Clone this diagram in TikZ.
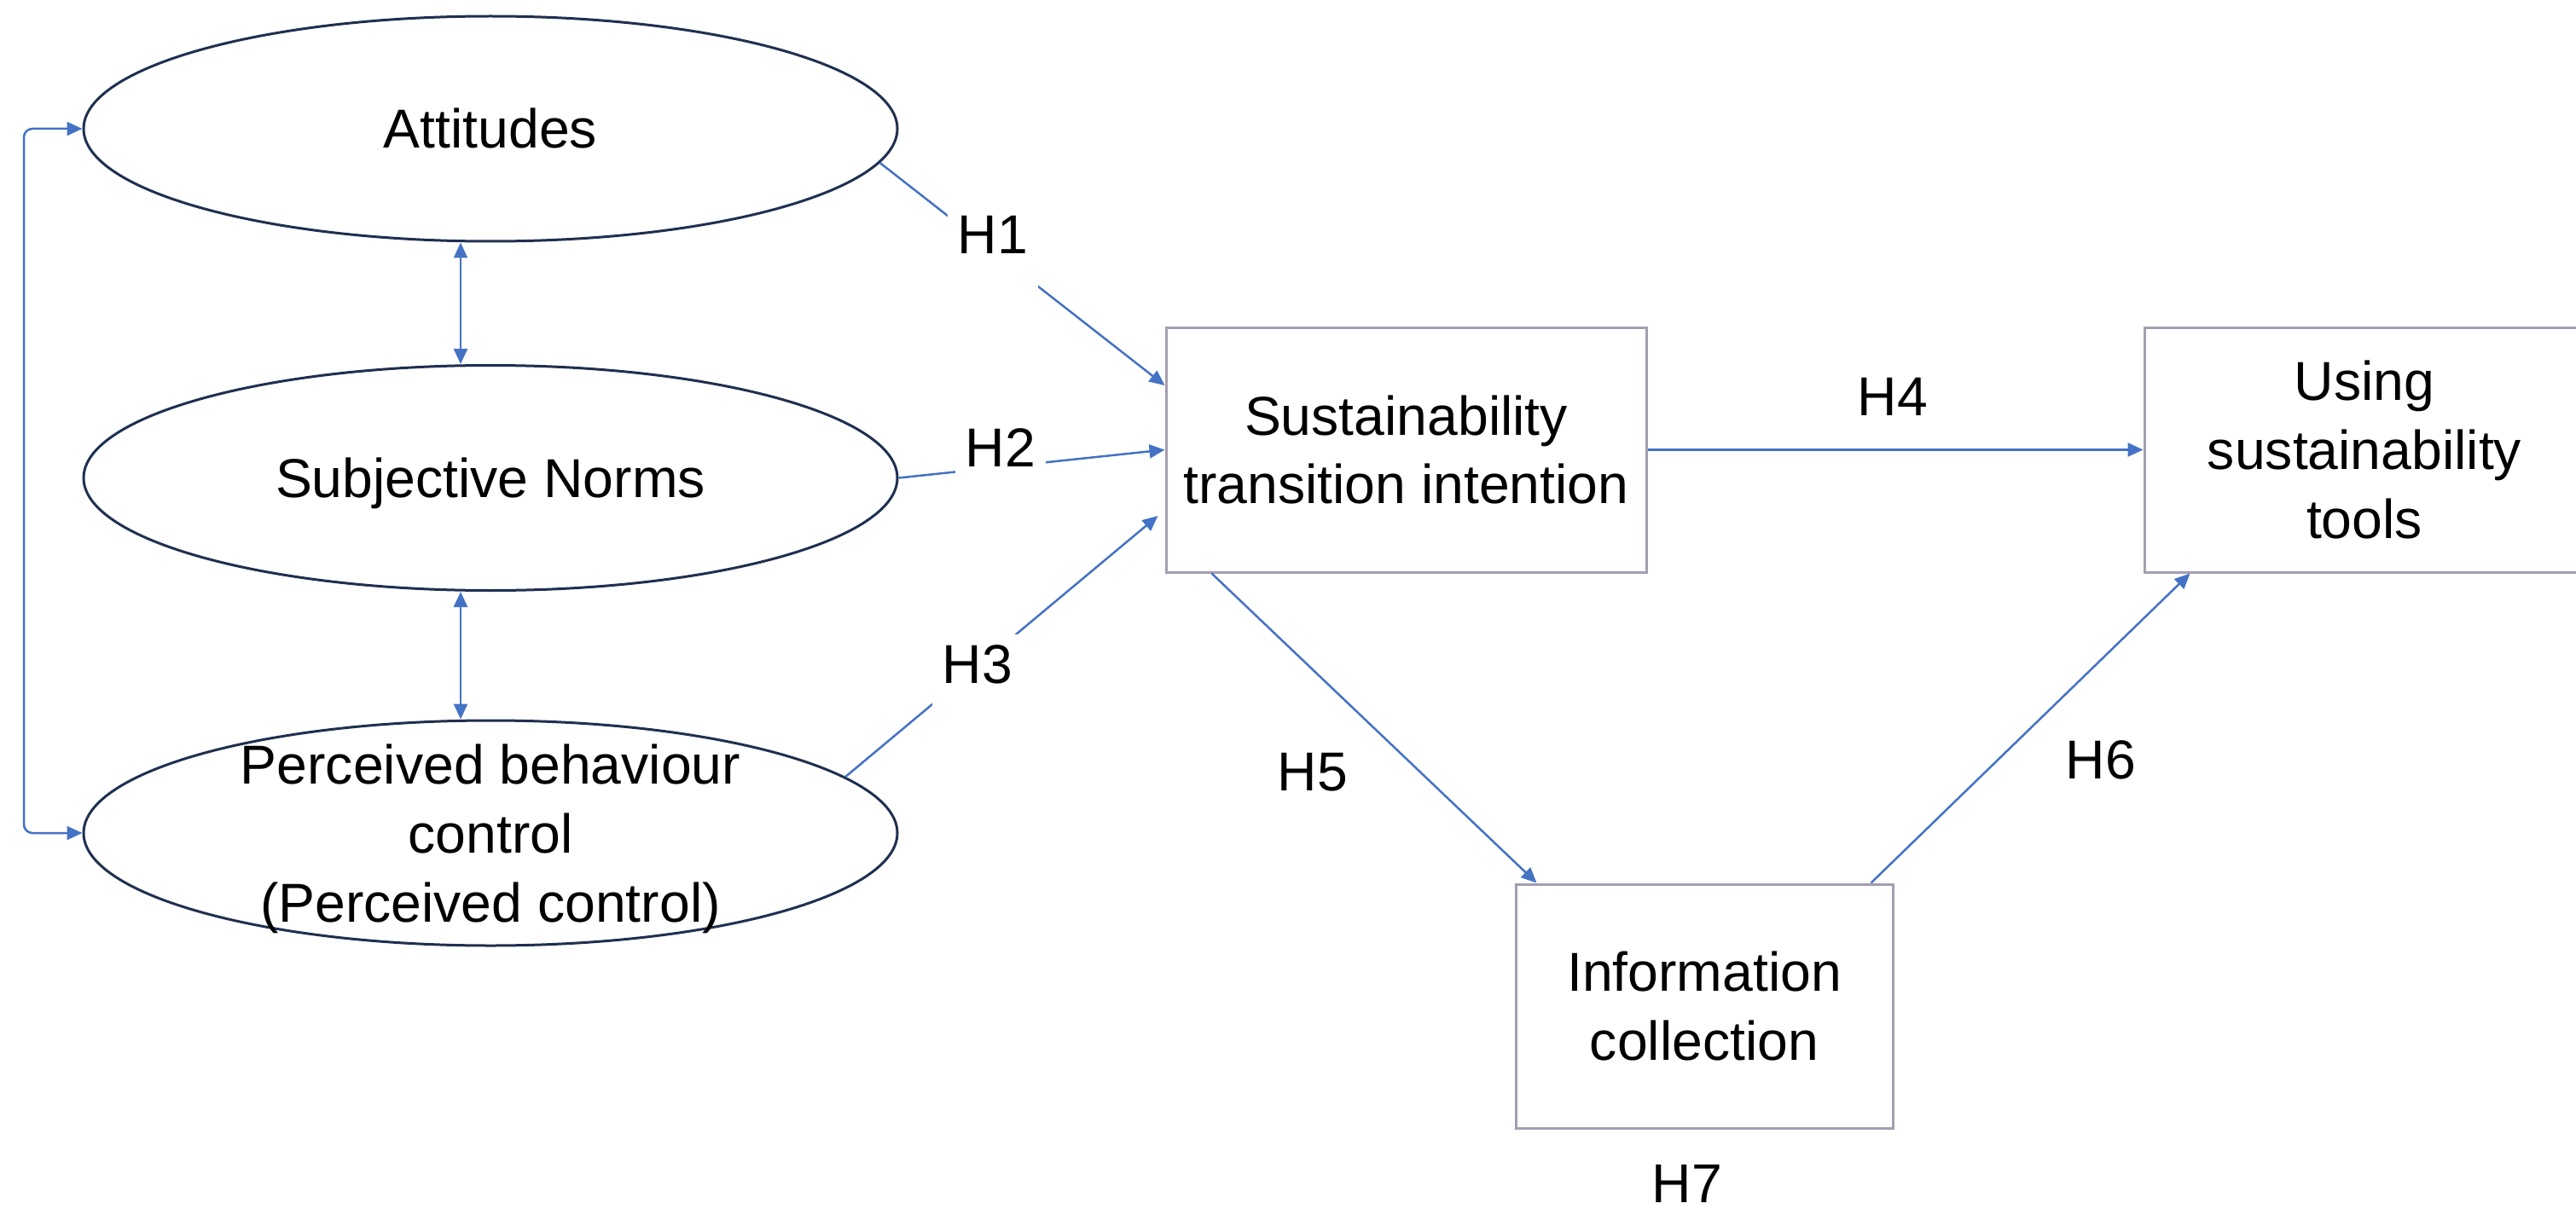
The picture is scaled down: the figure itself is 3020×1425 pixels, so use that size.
\documentclass[tikz,border=0pt]{standalone}
\usepackage{fontspec}
\setmainfont{Liberation Sans}
\usetikzlibrary{arrows.meta,shapes.geometric}
\definecolor{navy}{HTML}{1F3050}
\definecolor{arrowblue}{HTML}{4472C4}
\definecolor{boxgray}{HTML}{A59DB0}
\begin{document}
\begin{tikzpicture}[x=0.1mm,y=-0.1mm,
  txt/.style={font=\fontsize{18.3pt}{23pt}\selectfont, align=center, inner sep=0pt},
  latent/.style={ellipse, draw=navy, line width=0.3mm, minimum width=95.4mm, minimum height=26.4mm, inner sep=0pt},
  obs/.style={rectangle, draw=boxgray, line width=0.3mm, minimum height=28.7mm, inner sep=0pt, font=\fontsize{18.3pt}{23pt}\selectfont, align=center},
  tip/.tip={Triangle[length=1.8mm,width=1.6mm]},
  conn/.style={draw=arrowblue, line width=0.25mm, -tip},
  biconn/.style={draw=arrowblue, line width=0.25mm, tip-tip},
  hlab/.style={font=\fontsize{18.3pt}{23pt}\selectfont, inner sep=0pt, anchor=base},
  hgap/.style={hlab, fill=white, inner xsep=1.2mm, inner ysep=1.2mm, text depth=3mm}]
\useasboundingbox (0,0) rectangle (3020,1425);
\clip (0,0) rectangle (3020,1425);

% latent constructs
\node[latent, label={[txt]center:Attitudes}] (A) at (575,151) {};
\node[latent, label={[txt, text depth=0pt]center:Subjective Norms}] (S) at (575,560.5) {};
\node[latent, label={[txt, yshift=-0.7mm]center:Perceived behaviour\\control\\(Perceived control)}] (P) at (575,977) {};

% observed constructs
\node[obs, minimum width=56.3mm] (STI) at (1648.5,527.5) {Sustainability\\transition intention};
\node[obs, minimum width=51.6mm] (UST) at (2772,527.5) {Using\\sustainability\\tools};
\node[obs, minimum width=44.2mm, minimum height=28.6mm] (IC) at (1998,1180) {Information\\collection};

% correlations among antecedents
\coordinate (bx) at (28,0);
\draw[biconn, rounded corners=1mm] (A.west) -- (A.west -| bx) -- (P.west -| bx) -- (P.west);
\draw[biconn] ([xshift=-3.5mm]A.south) -- ([xshift=-3.5mm]S.north);
\draw[biconn] ([xshift=-3.5mm]S.south) -- ([xshift=-3.5mm]P.north);

% hypotheses paths
\draw[conn] (A.-5) -- ([yshift=7.55mm]STI.west);
\draw[conn] (S.east) -- (STI.west);
\draw[conn] (P.9) -- ([xshift=-0.8mm,yshift=-7.75mm]STI.west);
\draw[conn] (STI.east) -- (UST.west);
\draw[conn] ([xshift=5.5mm]STI.south west) -- ([xshift=2.6mm]IC.north west);
\draw[conn] ([xshift=-2.7mm]IC.north east) -- ([xshift=5.5mm]UST.south west);

% labels
\node[hgap] (h1) at (1164,298) {H1};
\node[hgap] (h2) at (1173,547) {H2};
\node[hgap] (h3) at (1146,801) {H3};
\node[hlab] (h4) at (2219,487) {H4};
\node[hlab] (h5) at (1539,927) {H5};
\node[hlab] (h6) at (2463,913) {H6};
\node[hlab] (h7) at (1978,1410) {H7};
\end{tikzpicture}
\end{document}
